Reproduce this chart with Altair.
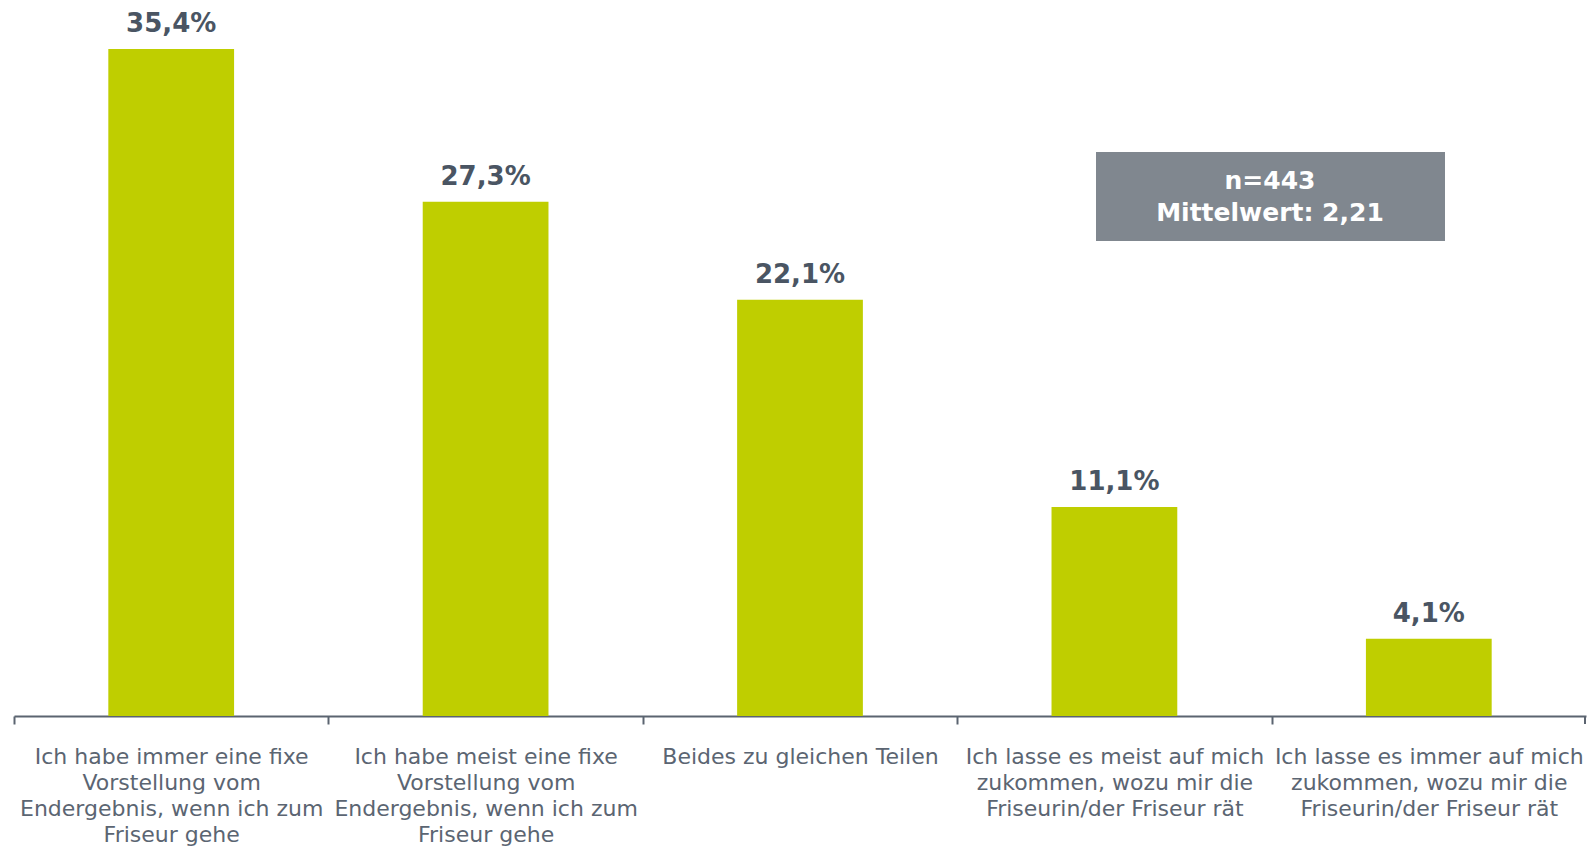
import altair as alt
import pandas as pd

categories = [
    "Ich habe immer eine fixe|Vorstellung vom|Endergebnis, wenn ich zum|Friseur gehe",
    "Ich habe meist eine fixe|Vorstellung vom|Endergebnis, wenn ich zum|Friseur gehe",
    "Beides zu gleichen Teilen",
    "Ich lasse es meist auf mich|zukommen, wozu mir die|Friseurin/der Friseur rät",
    "Ich lasse es immer auf mich|zukommen, wozu mir die|Friseurin/der Friseur rät",
]
values = [35.4, 27.3, 22.1, 11.1, 4.1]
box_lines = ["n=443", "Mittelwert: 2,21"]

df = pd.DataFrame({
    "cat": categories,
    "val": values,
    "lab": [f"{v:.1f}".replace(".", ",") + "%" for v in values],
})

FONT = "DejaVu Sans"
BAR = "#BFCE00"
TXT = "#4A5563"
AX = "#5B6470"

W, H = 1572, 708
STEP = W / len(categories)

x = alt.X("cat:N", sort=categories, title=None,
          scale=alt.Scale(paddingInner=0.6, paddingOuter=0.3),
          axis=alt.Axis(labelExpr="split(datum.label, '|')", labelAngle=0,
                        labelFont=FONT, labelFontSize=22, labelLineHeight=26,
                        labelColor="#5B6572", labelPadding=22, labelLimit=400,
                        domainColor=AX, domainWidth=2, tickColor=AX,
                        tickWidth=2, tickSize=8, tickOffset=-STEP / 2,
                        labelOffset=STEP / 2, labelBaseline="top"))
y = alt.Y("val:Q", scale=alt.Scale(domain=[0, 37.58], nice=False), axis=None)

bars = alt.Chart(df).mark_bar(color=BAR).encode(x=x, y=y)
labels = alt.Chart(df).mark_text(font=FONT, fontSize=26, fontWeight="bold",
                                 color=TXT, dy=-17, baseline="alphabetic").encode(
    x=alt.X("cat:N", sort=categories), y="val:Q", text="lab:N")

end_tick = alt.Chart(df.head(1)).mark_rule(color=AX, strokeWidth=2).encode(
    x=alt.value(W - 1), y=alt.value(H), y2=alt.value(H + 8))

box_df = pd.DataFrame({"t": [box_lines]})
box = alt.Chart(box_df).mark_rect(color="#80878F").encode(
    x=alt.value(1082), x2=alt.value(1431), y=alt.value(144), y2=alt.value(233))
box_text = alt.Chart(box_df).mark_text(font=FONT, fontSize=25, fontWeight="bold",
                                       color="white", lineHeight=32,
                                       baseline="middle").encode(
    x=alt.value(1256), y=alt.value(173), text="t")

chart = alt.layer(bars, labels, end_tick, box, box_text).properties(
    width=W, height=H,
    padding={"left": 6, "top": 0, "right": 2, "bottom": 130},
    autosize=alt.AutoSizeParams(type="none"),
).configure_view(stroke=None)

chart.save("out.html", embed_options={"renderer": "svg", "actions": False})
